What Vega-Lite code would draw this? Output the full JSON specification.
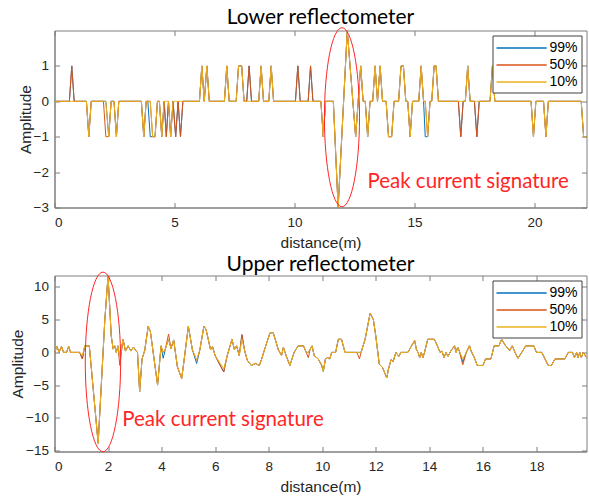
{
  "$schema": "https://vega.github.io/schema/vega-lite/v6.json",
  "background": "white",
  "padding": {"left": 9.5, "top": 6.5, "right": 0, "bottom": 0},
  "config": {
    "font": "Liberation Sans",
    "view": {"stroke": "#7f7f7f", "strokeWidth": 1},
    "axis": {
      "grid": false,
      "domainColor": "#7f7f7f",
      "tickColor": "#7f7f7f",
      "tickSize": -5,
      "labelFont": "Liberation Sans",
      "labelFontSize": 13.5,
      "labelColor": "#262626",
      "titleFont": "Liberation Sans",
      "titleFontSize": 15.5,
      "titleFontWeight": "normal",
      "titleColor": "#262626"
    },
    "axisX": {"labelPadding": 13, "titlePadding": 6},
    "axisY": {"labelPadding": 11, "titlePadding": 0},
    "title": {"font": "Lato", "fontSize": 21, "fontWeight": "normal", "color": "#000000", "anchor": "middle", "offset": -2.5},
    "style": {"group-title": {"font": "Lato", "fontSize": 21, "fontWeight": "normal", "color": "#000000"}},
    "legend": {
      "title": null,
      "orient": "top-right",
      "offset": 5,
      "fillColor": "white",
      "strokeColor": "#404040",
      "padding": 3,
      "symbolType": "M-1,0L4.9,0",
      "symbolSize": 289,
      "symbolStrokeWidth": 1.6,
      "labelFont": "Liberation Sans",
      "labelFontSize": 14,
      "labelColor": "#000000",
      "rowPadding": 0,
      "labelOffset": 35
    }
  },
  "datasets": {
    "lower": [
      {"x":0,"99%":0,"50%":0,"10%":0},
      {"x":0.62,"99%":0,"50%":0,"10%":0},
      {"x":0.72,"99%":1,"50%":1,"10%":0},
      {"x":0.82,"99%":0,"50%":0,"10%":0},
      {"x":1.33,"99%":0,"50%":0,"10%":0},
      {"x":1.43,"99%":-1,"50%":-1,"10%":-1},
      {"x":1.53,"99%":0,"50%":0,"10%":0},
      {"x":2.04,"99%":0,"50%":0,"10%":0},
      {"x":2.14,"99%":0,"50%":-1,"10%":0},
      {"x":2.26,"99%":-1,"50%":-1,"10%":-1},
      {"x":2.36,"99%":0,"50%":0,"10%":0},
      {"x":2.48,"99%":0,"50%":0,"10%":0},
      {"x":2.58,"99%":-1,"50%":-1,"10%":-1},
      {"x":2.68,"99%":0,"50%":0,"10%":0},
      {"x":3.62,"99%":0,"50%":0,"10%":0},
      {"x":3.72,"99%":-1,"50%":-1,"10%":-1},
      {"x":3.82,"99%":0,"50%":0,"10%":0},
      {"x":3.89,"99%":0,"50%":0,"10%":0},
      {"x":3.99,"99%":-1,"50%":0,"10%":0},
      {"x":4.09,"99%":-1,"50%":-1,"10%":-1},
      {"x":4.19,"99%":-1,"50%":-1,"10%":-1},
      {"x":4.29,"99%":0,"50%":0,"10%":0},
      {"x":4.37,"99%":0,"50%":0,"10%":0},
      {"x":4.47,"99%":-1,"50%":-1,"10%":-1},
      {"x":4.57,"99%":0,"50%":0,"10%":0},
      {"x":4.66,"99%":-1,"50%":-1,"10%":0},
      {"x":4.75,"99%":0,"50%":0,"10%":0},
      {"x":4.84,"99%":-1,"50%":-1,"10%":-1},
      {"x":4.94,"99%":0,"50%":0,"10%":0},
      {"x":5.05,"99%":-1,"50%":-1,"10%":0},
      {"x":5.15,"99%":0,"50%":0,"10%":0},
      {"x":5.25,"99%":-1,"50%":-1,"10%":0},
      {"x":5.35,"99%":0,"50%":0,"10%":0},
      {"x":6.04,"99%":0,"50%":0,"10%":0},
      {"x":6.14,"99%":1,"50%":1,"10%":1},
      {"x":6.24,"99%":0,"50%":0,"10%":0},
      {"x":6.35,"99%":1,"50%":1,"10%":1},
      {"x":6.45,"99%":0,"50%":0,"10%":0},
      {"x":7.08,"99%":0,"50%":0,"10%":0},
      {"x":7.18,"99%":1,"50%":1,"10%":1},
      {"x":7.28,"99%":0,"50%":0,"10%":0},
      {"x":7.57,"99%":0,"50%":0,"10%":0},
      {"x":7.67,"99%":1,"50%":1,"10%":1},
      {"x":7.8,"99%":1,"50%":1,"10%":1},
      {"x":7.9,"99%":0,"50%":0,"10%":0},
      {"x":8.01,"99%":0,"50%":0,"10%":0},
      {"x":8.11,"99%":1,"50%":1,"10%":0},
      {"x":8.21,"99%":0,"50%":0,"10%":0},
      {"x":8.51,"99%":0,"50%":0,"10%":0},
      {"x":8.61,"99%":1,"50%":1,"10%":1},
      {"x":8.71,"99%":0,"50%":0,"10%":0},
      {"x":8.93,"99%":0,"50%":0,"10%":0},
      {"x":9.03,"99%":1,"50%":1,"10%":1},
      {"x":9.13,"99%":0,"50%":0,"10%":0},
      {"x":10.04,"99%":0,"50%":0,"10%":0},
      {"x":10.14,"99%":1,"50%":1,"10%":0},
      {"x":10.24,"99%":0,"50%":0,"10%":0},
      {"x":10.57,"99%":0,"50%":0,"10%":0},
      {"x":10.67,"99%":1,"50%":1,"10%":0},
      {"x":10.77,"99%":0,"50%":0,"10%":0},
      {"x":11.1,"99%":0,"50%":0,"10%":0},
      {"x":11.2,"99%":-1,"50%":-1,"10%":-1},
      {"x":11.3,"99%":0,"50%":0,"10%":0},
      {"x":11.62,"99%":0,"50%":0,"10%":0},
      {"x":11.82,"99%":-3,"50%":-3,"10%":-3},
      {"x":12.2,"99%":2,"50%":2,"10%":2},
      {"x":12.55,"99%":-1,"50%":-1,"10%":-1},
      {"x":12.76,"99%":1,"50%":1,"10%":1},
      {"x":12.86,"99%":0,"50%":0,"10%":0},
      {"x":12.95,"99%":0,"50%":0,"10%":0},
      {"x":13.05,"99%":-1,"50%":-1,"10%":-1},
      {"x":13.15,"99%":0,"50%":0,"10%":0},
      {"x":13.26,"99%":0,"50%":0,"10%":0},
      {"x":13.36,"99%":1,"50%":1,"10%":1},
      {"x":13.46,"99%":0,"50%":0,"10%":0},
      {"x":13.57,"99%":1,"50%":1,"10%":1},
      {"x":13.67,"99%":0,"50%":0,"10%":0},
      {"x":13.82,"99%":0,"50%":0,"10%":0},
      {"x":13.92,"99%":-1,"50%":-1,"10%":-1},
      {"x":14.05,"99%":-1,"50%":-1,"10%":-1},
      {"x":14.15,"99%":0,"50%":0,"10%":0},
      {"x":14.34,"99%":0,"50%":0,"10%":0},
      {"x":14.44,"99%":1,"50%":1,"10%":1},
      {"x":14.54,"99%":1,"50%":1,"10%":1},
      {"x":14.64,"99%":0,"50%":0,"10%":0},
      {"x":14.72,"99%":0,"50%":0,"10%":0},
      {"x":14.82,"99%":-1,"50%":-1,"10%":-1},
      {"x":14.92,"99%":0,"50%":0,"10%":0},
      {"x":15.18,"99%":0,"50%":0,"10%":0},
      {"x":15.28,"99%":1,"50%":1,"10%":1},
      {"x":15.38,"99%":0,"50%":0,"10%":0},
      {"x":15.45,"99%":-1,"50%":0,"10%":0},
      {"x":15.55,"99%":-1,"50%":-1,"10%":-1},
      {"x":15.65,"99%":0,"50%":0,"10%":0},
      {"x":15.72,"99%":0,"50%":0,"10%":0},
      {"x":15.82,"99%":1,"50%":1,"10%":1},
      {"x":15.9,"99%":1,"50%":1,"10%":1},
      {"x":16.0,"99%":0,"50%":0,"10%":0},
      {"x":16.83,"99%":0,"50%":0,"10%":0},
      {"x":16.93,"99%":-1,"50%":-1,"10%":0},
      {"x":17.03,"99%":0,"50%":0,"10%":0},
      {"x":17.12,"99%":0,"50%":0,"10%":0},
      {"x":17.22,"99%":1,"50%":1,"10%":1},
      {"x":17.32,"99%":0,"50%":0,"10%":0},
      {"x":17.5,"99%":0,"50%":0,"10%":0},
      {"x":17.6,"99%":-1,"50%":-1,"10%":0},
      {"x":17.7,"99%":0,"50%":0,"10%":0},
      {"x":18.15,"99%":0,"50%":0,"10%":0},
      {"x":18.25,"99%":1,"50%":1,"10%":1},
      {"x":18.35,"99%":0,"50%":0,"10%":0},
      {"x":19.86,"99%":0,"50%":0,"10%":0},
      {"x":19.96,"99%":-1,"50%":-1,"10%":-1},
      {"x":20.06,"99%":0,"50%":0,"10%":0},
      {"x":20.38,"99%":0,"50%":0,"10%":0},
      {"x":20.48,"99%":-1,"50%":-1,"10%":-1},
      {"x":20.58,"99%":0,"50%":0,"10%":0},
      {"x":21.95,"99%":0,"50%":0,"10%":0},
      {"x":22.05,"99%":-1,"50%":-1,"10%":-1},
      {"x":22.2,"99%":-1,"50%":-1,"10%":-1}
    ],
    "upper": [
      {"x":0,"99%":0,"50%":0,"10%":0},
      {"x":0.09,"99%":0.9,"50%":0.9,"10%":0.9},
      {"x":0.17,"99%":0,"50%":0,"10%":0},
      {"x":0.26,"99%":0.9,"50%":0.9,"10%":0.9},
      {"x":0.34,"99%":0,"50%":0,"10%":0},
      {"x":0.45,"99%":0,"50%":0,"10%":0},
      {"x":0.53,"99%":0.9,"50%":0.9,"10%":0.9},
      {"x":0.6,"99%":0,"50%":0,"10%":0},
      {"x":0.94,"99%":0,"50%":0,"10%":0},
      {"x":1.04,"99%":-1,"50%":-1,"10%":-0.5},
      {"x":1.13,"99%":1,"50%":1,"10%":1},
      {"x":1.3,"99%":1,"50%":1,"10%":1},
      {"x":1.63,"99%":-13.9,"50%":-13.9,"10%":-13.9},
      {"x":1.88,"99%":5,"50%":5,"10%":5},
      {"x":2.0,"99%":11.7,"50%":11.7,"10%":11.7},
      {"x":2.12,"99%":2.5,"50%":2.5,"10%":2.5},
      {"x":2.19,"99%":0.5,"50%":0.5,"10%":0.5},
      {"x":2.25,"99%":1,"50%":1,"10%":1},
      {"x":2.31,"99%":0,"50%":0,"10%":0},
      {"x":2.37,"99%":1,"50%":1,"10%":1},
      {"x":2.44,"99%":-1,"50%":-2,"10%":-1},
      {"x":2.56,"99%":2,"50%":2,"10%":2},
      {"x":2.65,"99%":0.2,"50%":0.2,"10%":0.2},
      {"x":2.75,"99%":1,"50%":1,"10%":1},
      {"x":2.85,"99%":0.2,"50%":0.2,"10%":0.2},
      {"x":2.95,"99%":0.8,"50%":0.8,"10%":0.8},
      {"x":3.05,"99%":0.2,"50%":0.2,"10%":0.2},
      {"x":3.1,"99%":0,"50%":0,"10%":0},
      {"x":3.18,"99%":-6,"50%":-6,"10%":-6},
      {"x":3.27,"99%":-1,"50%":-1,"10%":-1},
      {"x":3.37,"99%":0.3,"50%":0.3,"10%":0.3},
      {"x":3.5,"99%":4,"50%":4,"10%":4},
      {"x":3.58,"99%":3.2,"50%":3.2,"10%":3.2},
      {"x":3.85,"99%":-5,"50%":-5,"10%":-5},
      {"x":3.98,"99%":1,"50%":1,"10%":1},
      {"x":4.06,"99%":-0.9,"50%":0,"10%":0},
      {"x":4.14,"99%":0.5,"50%":0.5,"10%":0.5},
      {"x":4.26,"99%":2,"50%":2.8,"10%":2},
      {"x":4.35,"99%":0.6,"50%":0.6,"10%":0.6},
      {"x":4.45,"99%":1.9,"50%":1.9,"10%":1.9},
      {"x":4.59,"99%":-2.2,"50%":-2.2,"10%":-2.2},
      {"x":4.75,"99%":-4,"50%":-4,"10%":-4},
      {"x":4.84,"99%":-1.2,"50%":-1.2,"10%":-1.2},
      {"x":5.0,"99%":4,"50%":4,"10%":4},
      {"x":5.15,"99%":0.4,"50%":0.4,"10%":0.4},
      {"x":5.31,"99%":-1.7,"50%":-1.2,"10%":-1.2},
      {"x":5.43,"99%":0.4,"50%":0.4,"10%":0.4},
      {"x":5.58,"99%":4,"50%":4,"10%":4},
      {"x":5.66,"99%":3.5,"50%":3.5,"10%":3.5},
      {"x":5.83,"99%":0.4,"50%":0.4,"10%":0.4},
      {"x":5.9,"99%":0.9,"50%":0.9,"10%":0.9},
      {"x":6.0,"99%":-0.5,"50%":-0.5,"10%":-0.5},
      {"x":6.32,"99%":-3,"50%":-3,"10%":-2.5},
      {"x":6.45,"99%":-0.5,"50%":-0.5,"10%":-0.5},
      {"x":6.63,"99%":2,"50%":2,"10%":2},
      {"x":6.72,"99%":0.4,"50%":0.4,"10%":0.4},
      {"x":6.8,"99%":1,"50%":1,"10%":1},
      {"x":6.9,"99%":-0.5,"50%":-0.5,"10%":-0.5},
      {"x":7.0,"99%":2.7,"50%":2.7,"10%":2},
      {"x":7.1,"99%":0.3,"50%":0.3,"10%":0.3},
      {"x":7.2,"99%":-1.2,"50%":-1.2,"10%":-1.2},
      {"x":7.35,"99%":-2,"50%":-2,"10%":-2},
      {"x":7.5,"99%":-1.7,"50%":-1.7,"10%":-1.7},
      {"x":7.65,"99%":-2,"50%":-2,"10%":-2},
      {"x":7.74,"99%":-1,"50%":-1,"10%":-1},
      {"x":7.85,"99%":0.5,"50%":0.5,"10%":0.5},
      {"x":8.05,"99%":3,"50%":3,"10%":3},
      {"x":8.17,"99%":3,"50%":3,"10%":3},
      {"x":8.36,"99%":0.4,"50%":0.4,"10%":0.4},
      {"x":8.48,"99%":-0.5,"50%":-0.5,"10%":-0.5},
      {"x":8.55,"99%":0.8,"50%":0.8,"10%":0.8},
      {"x":8.65,"99%":-0.5,"50%":-0.5,"10%":-0.5},
      {"x":8.79,"99%":-2,"50%":-2,"10%":-2},
      {"x":8.95,"99%":0,"50%":0,"10%":0},
      {"x":9.1,"99%":1,"50%":1,"10%":1},
      {"x":9.3,"99%":1,"50%":1,"10%":1},
      {"x":9.4,"99%":0,"50%":0,"10%":0},
      {"x":9.48,"99%":0,"50%":-0.8,"10%":0},
      {"x":9.55,"99%":0.5,"50%":0.5,"10%":0.5},
      {"x":9.62,"99%":1,"50%":1,"10%":1},
      {"x":9.7,"99%":-0.5,"50%":-0.5,"10%":-0.5},
      {"x":9.85,"99%":-1,"50%":-1,"10%":-1},
      {"x":9.98,"99%":-2,"50%":-2,"10%":-2},
      {"x":10.04,"99%":-2.9,"50%":-2.9,"10%":-2.9},
      {"x":10.12,"99%":-1,"50%":-1,"10%":-1},
      {"x":10.2,"99%":-0.8,"50%":-0.8,"10%":-0.8},
      {"x":10.28,"99%":-1,"50%":-1,"10%":-1},
      {"x":10.35,"99%":0,"50%":0,"10%":0},
      {"x":10.5,"99%":0,"50%":0,"10%":0},
      {"x":10.6,"99%":2,"50%":2,"10%":2},
      {"x":10.72,"99%":2,"50%":2,"10%":2},
      {"x":10.85,"99%":0,"50%":0,"10%":0},
      {"x":11.29,"99%":0,"50%":0,"10%":0},
      {"x":11.39,"99%":0,"50%":-1,"10%":0},
      {"x":11.45,"99%":0,"50%":0,"10%":0},
      {"x":11.6,"99%":2,"50%":2,"10%":2},
      {"x":11.79,"99%":6,"50%":6,"10%":6},
      {"x":11.91,"99%":5,"50%":5,"10%":5},
      {"x":12.0,"99%":2.5,"50%":2.5,"10%":2.5},
      {"x":12.13,"99%":-1.8,"50%":-1.8,"10%":-1.8},
      {"x":12.25,"99%":-2.3,"50%":-2.3,"10%":-2.3},
      {"x":12.41,"99%":-3.9,"50%":-3.9,"10%":-3.9},
      {"x":12.47,"99%":-2.6,"50%":-2.6,"10%":-2.6},
      {"x":12.57,"99%":-1.1,"50%":-1.1,"10%":-1.1},
      {"x":12.65,"99%":-1.4,"50%":-1.4,"10%":-1.4},
      {"x":12.75,"99%":0,"50%":0,"10%":0},
      {"x":12.86,"99%":-0.6,"50%":-0.6,"10%":-0.6},
      {"x":12.94,"99%":0,"50%":0,"10%":0},
      {"x":13.2,"99%":0,"50%":0,"10%":0},
      {"x":13.32,"99%":0.9,"50%":0.9,"10%":0.9},
      {"x":13.45,"99%":1.8,"50%":1.8,"10%":1.8},
      {"x":13.52,"99%":0.4,"50%":0.4,"10%":0.4},
      {"x":13.58,"99%":0,"50%":0,"10%":0},
      {"x":13.64,"99%":-0.8,"50%":-0.8,"10%":-0.8},
      {"x":13.7,"99%":0,"50%":0,"10%":0},
      {"x":13.76,"99%":-0.8,"50%":-0.8,"10%":-0.8},
      {"x":13.82,"99%":0,"50%":0,"10%":0},
      {"x":13.94,"99%":2,"50%":2,"10%":2},
      {"x":14.19,"99%":2,"50%":2,"10%":2},
      {"x":14.3,"99%":1,"50%":1,"10%":1},
      {"x":14.4,"99%":0,"50%":0,"10%":0},
      {"x":14.47,"99%":0.2,"50%":0.2,"10%":0.2},
      {"x":14.55,"99%":-0.8,"50%":-0.8,"10%":-0.8},
      {"x":14.62,"99%":0,"50%":0,"10%":0},
      {"x":14.7,"99%":-0.6,"50%":-0.6,"10%":-0.6},
      {"x":14.8,"99%":0.2,"50%":0.2,"10%":0.2},
      {"x":14.94,"99%":1,"50%":1,"10%":1},
      {"x":15.0,"99%":0,"50%":0,"10%":0},
      {"x":15.06,"99%":0.8,"50%":0.8,"10%":0.8},
      {"x":15.12,"99%":0.2,"50%":0.2,"10%":0.2},
      {"x":15.25,"99%":-1.5,"50%":-1.9,"10%":-1},
      {"x":15.38,"99%":0,"50%":0,"10%":0},
      {"x":15.5,"99%":1,"50%":1,"10%":1},
      {"x":15.56,"99%":0.2,"50%":0.2,"10%":0.2},
      {"x":15.68,"99%":-0.8,"50%":-0.8,"10%":-0.8},
      {"x":15.79,"99%":-2,"50%":-2,"10%":-2},
      {"x":16.0,"99%":-2,"50%":-2,"10%":-2},
      {"x":16.1,"99%":-1,"50%":-1,"10%":-1},
      {"x":16.3,"99%":-1,"50%":-1,"10%":-1},
      {"x":16.42,"99%":1,"50%":1,"10%":1},
      {"x":16.6,"99%":1,"50%":1,"10%":1},
      {"x":16.7,"99%":2,"50%":2,"10%":2},
      {"x":16.85,"99%":1,"50%":1,"10%":1},
      {"x":17.0,"99%":0.3,"50%":0.3,"10%":0.3},
      {"x":17.1,"99%":1,"50%":1,"10%":1},
      {"x":17.2,"99%":0,"50%":0,"10%":0},
      {"x":17.31,"99%":-0.9,"50%":-0.9,"10%":-0.9},
      {"x":17.45,"99%":0,"50%":0,"10%":0},
      {"x":17.6,"99%":1,"50%":1,"10%":1},
      {"x":17.9,"99%":1,"50%":1,"10%":1},
      {"x":18.0,"99%":0,"50%":0,"10%":0},
      {"x":18.2,"99%":0,"50%":0,"10%":0},
      {"x":18.44,"99%":-2,"50%":-2,"10%":-2},
      {"x":18.56,"99%":-2,"50%":-2,"10%":-2},
      {"x":18.69,"99%":-1,"50%":-1,"10%":-1},
      {"x":19.06,"99%":-1,"50%":-1,"10%":-1},
      {"x":19.19,"99%":0,"50%":0,"10%":0},
      {"x":19.35,"99%":0,"50%":0,"10%":0},
      {"x":19.42,"99%":-0.8,"50%":-0.8,"10%":-0.8},
      {"x":19.5,"99%":0,"50%":0,"10%":0},
      {"x":19.55,"99%":-0.8,"50%":-0.8,"10%":-0.8},
      {"x":19.62,"99%":0,"50%":0,"10%":0},
      {"x":19.68,"99%":-0.8,"50%":-0.8,"10%":-0.8},
      {"x":19.75,"99%":0,"50%":0,"10%":0},
      {"x":19.87,"99%":-0.8,"50%":-0.8,"10%":-0.8}
    ]
  },
  "spacing": 1,
  "vconcat": [
    {
      "title": {"text": "Lower reflectometer", "fontWeight": "normal", "font": "Lato", "fontSize": 21},
      "width": 532,
      "height": 177,
      "layer": [
        {
          "data": {"name": "lower"},
          "transform": [{"fold": ["99%", "50%", "10%"], "as": ["series", "amp"]}],
          "mark": {"type": "line", "strokeWidth": 1, "clip": true},
          "encoding": {
            "x": {"field": "x", "type": "quantitative", "scale": {"domain": [0, 22.17], "nice": false, "zero": false}, "axis": {"orient": "bottom", "title": "distance(m)", "values": [0, 5, 10, 15, 20]}},
            "y": {"field": "amp", "type": "quantitative", "scale": {"domain": [-3, 2], "nice": false, "zero": false}, "axis": {"orient": "left", "title": "Amplitude", "values": [-3, -2, -1, 0, 1]}},
            "color": {"field": "series", "type": "nominal", "scale": {"domain": ["99%", "50%", "10%"], "range": ["#0072BD", "#D95319", "#EDB120"]}, "legend": {"offset": 5}}
          }
        },
        {
          "data": {"values": [{"x": 11.98, "y": -0.45}]},
          "mark": {"type": "point", "shape": "M0,-1C0.108,-1 0.196,-0.552 0.196,0C0.196,0.552 0.108,1 0,1C-0.108,1 -0.196,0.552 -0.196,0C-0.196,-0.552 -0.108,-1 0,-1Z", "size": 32041, "filled": false, "color": "#FF2626", "stroke": "#FF2626", "strokeWidth": 1, "opacity": 1},
          "encoding": {
            "x": {"field": "x", "type": "quantitative", "scale": {"domain": [0, 22.17], "nice": false, "zero": false}, "axis": {"orient": "top", "labels": false, "title": null, "domain": false, "values": [0, 5, 10, 15, 20]}},
            "y": {"field": "y", "type": "quantitative", "scale": {"domain": [-3, 2], "nice": false, "zero": false}, "axis": {"orient": "right", "labels": false, "title": null, "domain": false, "values": [-3, -2, -1, 0, 1]}}
          }
        },
        {
          "data": {"values": [{"x": 13.04, "y": -2.28, "label": "Peak current signature"}]},
          "mark": {"type": "text", "align": "left", "baseline": "middle", "font": "Lato", "fontSize": 20.5, "color": "#FF2626"},
          "encoding": {
            "x": {"field": "x", "type": "quantitative", "scale": {"domain": [0, 22.17], "nice": false, "zero": false}, "axis": null},
            "y": {"field": "y", "type": "quantitative", "scale": {"domain": [-3, 2], "nice": false, "zero": false}, "axis": null},
            "text": {"field": "label"}
          }
        }
      ],
      "resolve": {"axis": {"x": "independent", "y": "independent"}}
    },
    {
      "title": {"text": "Upper reflectometer", "fontWeight": "normal", "font": "Lato", "fontSize": 21, "offset": -4.5},
      "width": 532,
      "height": 176,
      "layer": [
        {
          "data": {"name": "upper"},
          "transform": [{"fold": ["99%", "50%", "10%"], "as": ["series", "amp"]}],
          "mark": {"type": "line", "strokeWidth": 1, "clip": true},
          "encoding": {
            "x": {"field": "x", "type": "quantitative", "scale": {"domain": [0, 19.87], "nice": false, "zero": false}, "axis": {"orient": "bottom", "title": "distance(m)", "values": [0, 2, 4, 6, 8, 10, 12, 14, 16, 18]}},
            "y": {"field": "amp", "type": "quantitative", "scale": {"domain": [-15.15, 11.75], "nice": false, "zero": false}, "axis": {"orient": "left", "title": "Amplitude", "values": [-15, -10, -5, 0, 5, 10]}},
            "color": {"field": "series", "type": "nominal", "scale": {"domain": ["99%", "50%", "10%"], "range": ["#0072BD", "#D95319", "#EDB120"]}, "legend": {"offset": 5}}
          }
        },
        {
          "data": {"values": [{"x": 1.81, "y": -1.46}]},
          "mark": {"type": "point", "shape": "M0,-1C0.109,-1 0.197,-0.552 0.197,0C0.197,0.552 0.109,1 0,1C-0.109,1 -0.197,0.552 -0.197,0C-0.197,-0.552 -0.109,-1 0,-1Z", "size": 32256, "filled": false, "color": "#FF2626", "stroke": "#FF2626", "strokeWidth": 1, "opacity": 1},
          "encoding": {
            "x": {"field": "x", "type": "quantitative", "scale": {"domain": [0, 19.87], "nice": false, "zero": false}, "axis": {"orient": "top", "labels": false, "title": null, "domain": false, "values": [0, 2, 4, 6, 8, 10, 12, 14, 16, 18]}},
            "y": {"field": "y", "type": "quantitative", "scale": {"domain": [-15.15, 11.75], "nice": false, "zero": false}, "axis": {"orient": "right", "labels": false, "title": null, "domain": false, "values": [-15, -10, -5, 0, 5, 10]}}
          }
        },
        {
          "data": {"values": [{"x": 2.53, "y": -10.38, "label": "Peak current signature"}]},
          "mark": {"type": "text", "align": "left", "baseline": "middle", "font": "Lato", "fontSize": 20.5, "color": "#FF2626"},
          "encoding": {
            "x": {"field": "x", "type": "quantitative", "scale": {"domain": [0, 19.87], "nice": false, "zero": false}, "axis": null},
            "y": {"field": "y", "type": "quantitative", "scale": {"domain": [-15.15, 11.75], "nice": false, "zero": false}, "axis": null},
            "text": {"field": "label"}
          }
        }
      ],
      "resolve": {"axis": {"x": "independent", "y": "independent"}}
    }
  ],
  "resolve": {"scale": {"color": "independent"}}
}
